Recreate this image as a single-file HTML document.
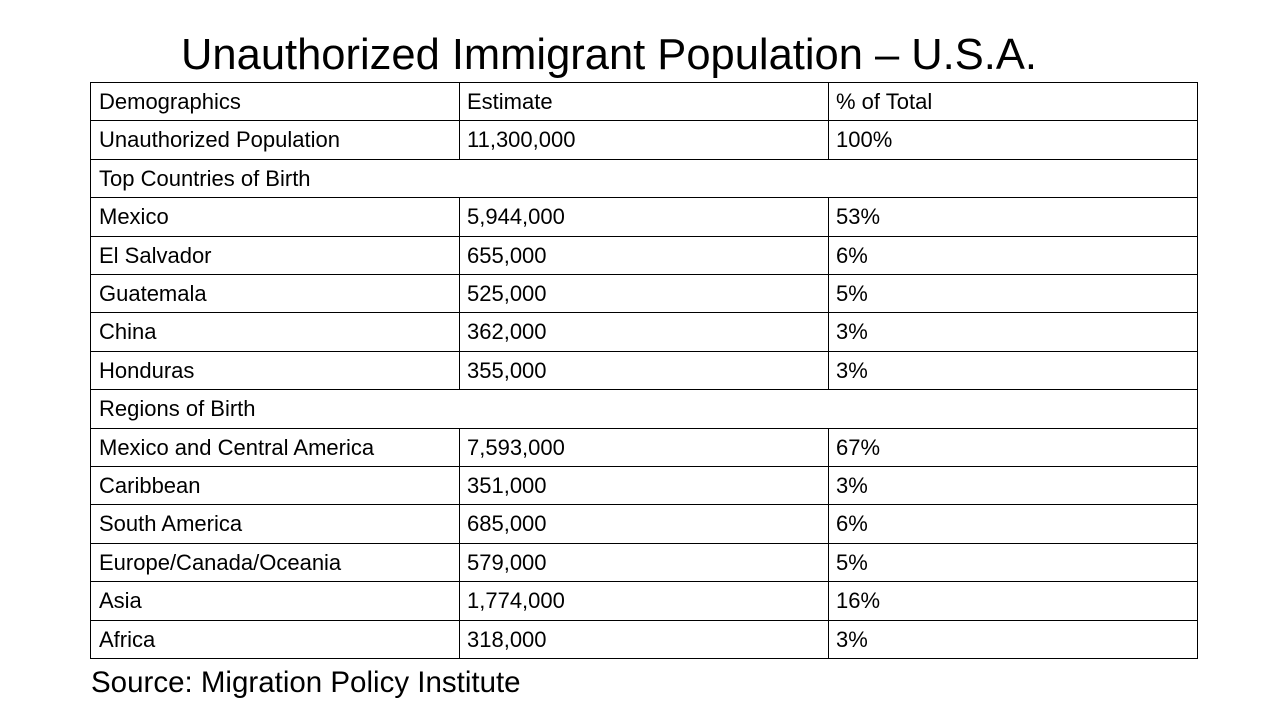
<!DOCTYPE html>
<html>
<head>
<meta charset="utf-8">
<style>
html,body{margin:0;padding:0;background:#fff;}
body{width:1280px;height:720px;position:relative;overflow:hidden;font-family:"Liberation Sans",sans-serif;color:#000;}
#title{position:absolute;left:0;width:1218px;top:28px;text-align:center;font-size:43.5px;line-height:54px;white-space:nowrap;}
#tbl{position:absolute;left:0;top:0;width:1280px;height:720px;}
.hl{position:absolute;height:1px;background:#000;}
.vl{position:absolute;width:1px;background:#000;}
.cell{position:absolute;font-size:22px;line-height:26px;white-space:nowrap;}
#source{position:absolute;left:91px;top:665px;font-size:29.5px;line-height:36px;white-space:nowrap;}
</style>
</head>
<body>
<div id="title">Unauthorized Immigrant Population – U.S.A.</div>
<div id="tbl"></div>
<div id="source">Source: Migration Policy Institute</div>
<script>
const labels = ["Demographics","Unauthorized Population","Top Countries of Birth","Mexico","El Salvador","Guatemala","China","Honduras","Regions of Birth","Mexico and Central America","Caribbean","South America","Europe/Canada/Oceania","Asia","Africa"];
const estimates = ["Estimate","11,300,000",null,"5,944,000","655,000","525,000","362,000","355,000",null,"7,593,000","351,000","685,000","579,000","1,774,000","318,000"];
const percents = ["% of Total","100%",null,"53%","6%","5%","3%","3%",null,"67%","3%","6%","5%","16%","3%"];

const tbl = document.getElementById('tbl');
const L = 90, R = 1197, T = 82, B = 658, C1 = 459, C2 = 828;
const rowH = (B - T) / labels.length;
function rowY(i){ return Math.round(T + i * rowH); }

for (let i = 0; i <= labels.length; i++) {
  const h = document.createElement('div');
  h.className = 'hl';
  
  
  h.style.left = L + 'px'; h.style.width = (R - L + 1) + 'px'; h.style.top = rowY(i) + 'px';
  tbl.appendChild(h);
}
[L, R].forEach(x => {
  const v = document.createElement('div');
  v.className = 'vl';
  
  
  v.style.left = x + 'px'; v.style.top = T + 'px'; v.style.height = (B - T) + 'px';
  tbl.appendChild(v);
});
for (let i = 0; i < labels.length; i++) {
  if (estimates[i] === null) continue;
  [C1, C2].forEach(x => {
    const v = document.createElement('div');
    v.className = 'vl';
    
    
    v.style.left = x + 'px'; v.style.top = rowY(i) + 'px'; v.style.height = (rowY(i + 1) - rowY(i)) + 'px';
    tbl.appendChild(v);
  });
}
function addCell(text, x, i, name) {
  const c = document.createElement('div');
  c.className = 'cell';
  
  
  c.textContent = text;
  c.style.left = x + 'px';
  c.style.top = (rowY(i) + 7) + 'px';
  tbl.appendChild(c);
}
for (let i = 0; i < labels.length; i++) {
  addCell(labels[i], L + 9, i, 'row-label');
  if (estimates[i] !== null) addCell(estimates[i], C1 + 8, i, 'estimate-cell');
  if (percents[i] !== null) addCell(percents[i], C2 + 8, i, 'percent-cell');
}
</script>
</body>
</html>
